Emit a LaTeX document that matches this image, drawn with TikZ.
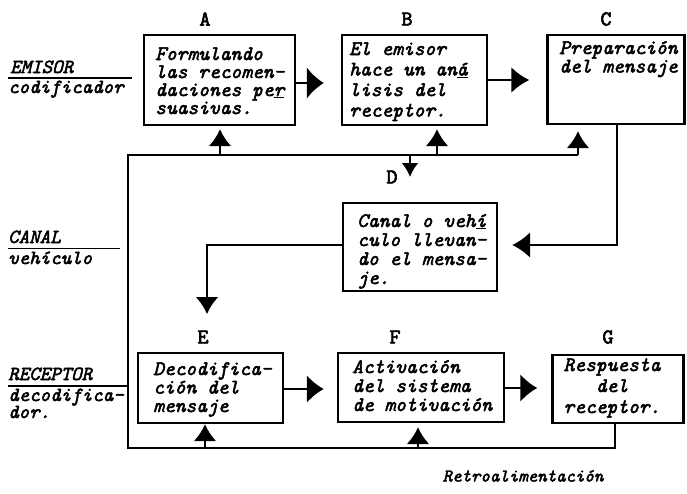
\documentclass[tikz,border=0pt]{standalone}
\usepackage{fontspec}
\newfontfamily\twfont{lmmono10-italic.otf}[FakeBold=2.5]
\newfontfamily\twupfont{lmmono10-regular.otf}[FakeBold=3]
\usetikzlibrary{arrows.meta}
\newcommand\boxtext[3]{\parbox[t]{#1}{\lineskiplimit=-50pt\relax #2#3}}
\tikzset{
  box/.style={draw, line width=2.4pt, inner sep=0pt},
  txt/.style={inner sep=0pt, font=\twfont\fontsize{20.5}{#1}\selectfont},
  side/.style={inner sep=0pt, anchor=base west, font=\twfont\fontsize{20}{20}\selectfont},
  letter/.style={inner sep=0pt, font=\twupfont\fontsize{21}{20}\selectfont},
  wire/.style={line width=2.4pt},
  conn/.style={line width=2.4pt, -{Latex[length=17pt,width=23pt]}},
  uline/.style={line width=1.8pt},
}
\begin{document}
\begin{tikzpicture}[x=1pt, y=-1pt]
\useasboundingbox (0,0) rectangle (687,493);

% boxes
\node[box, minimum width=151pt, minimum height=90pt] (A) at (219.5,80) {};
\node[box, minimum width=145pt, minimum height=90pt] (B) at (414.5,80) {};
\node[box, minimum width=137pt, minimum height=89pt] (C) at (616,79.5) {};
\node[box, minimum width=154pt, minimum height=88pt] (K) at (420,247) {};
\node[box, minimum width=145pt, minimum height=70pt] (E) at (210.5,388) {};
\node[box, minimum width=166pt, minimum height=69pt] (F) at (421,387.5) {};
\node[box, minimum width=131pt, minimum height=68pt] (G) at (618,389) {};

% box texts
\node[txt=18, anchor=base west] (At) at (155,60) {\boxtext{140pt}{\raggedright}{Formulando\\las recomen-\\daciones pe\underline{r}\\suasivas.}};
\node[txt=20.5, anchor=base west] (Bt) at (349,55) {\boxtext{140pt}{\raggedright}{El emisor\\hace un an\underline{á}\\lisis del\\receptor.}};
\node[txt=18.5, anchor=base west] (Ct) at (559,54) {\boxtext{140pt}{\raggedright}{Preparación\\del mensaje}};
\node[txt=19, anchor=base west] (Kt) at (357,227) {\boxtext{150pt}{\raggedright}{Canal o veh\underline{í}\\culo llevan-\\do el mensa-\\je.}};
\node[txt=18.5, anchor=base west] (Et) at (153,375) {\boxtext{140pt}{\raggedright}{Decodifica-\\ción del\\mensaje}};
\node[txt=19, anchor=base west] (Ft) at (352,373) {\boxtext{160pt}{\raggedright}{Activación\\del sistema\\de motivación}};
\node[txt=21, anchor=base] (Gt) at (612,371) {\boxtext{130pt}{\centering}{Respuesta\\del\\receptor.}};

% letters
\node[letter] (LA) at (205,19) {A};
\node[letter] (LB) at (407,19) {B};
\node[letter] (LC) at (606,19) {C};
\node[letter] (LD) at (392,177) {D};
\node[letter] (LE) at (203,337) {E};
\node[letter] (LF) at (395,337) {F};
\node[letter] (LG) at (608,337) {G};

% side labels
\node[side] (emi) at (10,73) {EMISOR};
\node[side] (cod) at (8,93) {codificador};
\draw[uline] (8,78) -- (132,78);
\node[side] (can) at (8,243) {CANAL};
\node[side] (veh) at (8,264) {vehículo};
\draw[uline] (8,248.5) -- (120,248.5);
\node[side] (rec) at (8,380) {RECEPTOR};
\node[side] (dec) at (8,401) {decodifica-};
\node[side] (dor) at (8,418) {dor.};
\draw[uline] (8,386) -- (128,386);
\node[inner sep=0pt, font=\twfont\fontsize{18}{20}\selectfont] (retro) at (523,476) {Retroalimentación};

% coordinates of the feedback loop
\coordinate (tl) at (128,155);
\coordinate (tr) at (578,155);
\coordinate (bl) at (128,448);
\coordinate (br) at (615,448);
\coordinate (fa) at (220,155);
\coordinate (fb) at (437,155);
\coordinate (fd) at (410,155);
\coordinate (dend) at (410,177);
\coordinate (fe) at (205,448);
\coordinate (ff) at (418,448);
\coordinate (eend) at (207,314);
\coordinate (cdown) at (617,123);

% main flow
\draw[conn, -{Latex[length=17pt,width=32pt]}, shorten >=17pt] (A.east |- 0,83) -- (B.west |- 0,83);
\draw[conn, -{Latex[length=18pt,width=26pt]}, shorten >=17pt] (B.east |- 0,80) -- (C.west |- 0,80);
\draw[conn, -{Latex[length=18pt,width=26pt]}, shorten >=14pt] (cdown) |- (K.east |- 0,245);
\draw[conn] (K.west |- 0,245) -| (eend);
\draw[conn, -{Latex[length=17pt,width=28pt]}, shorten >=13pt] (E.east |- 0,389) -- (F.west |- 0,389);
\draw[conn, -{Latex[length=17pt,width=28pt]}, shorten >=14pt] (F.east |- 0,388) -- (G.west |- 0,388);

% feedback
\draw[wire] (G.south -| br) -- (br) -- (bl) -- (tl) -- (tr);
\draw[conn, shorten >=6pt] (tr) -- (tr |- C.south);
\draw[conn, shorten >=3pt] (fa) -- (fa |- A.south);
\draw[conn, shorten >=3pt] (fb) -- (fb |- B.south);
\draw[conn, -{Latex[length=14pt,width=17pt]}] (fd) -- (dend);
\draw[conn] (fe) -- (fe |- E.south);
\draw[conn, shorten >=4pt] (ff) -- (ff |- F.south);
\end{tikzpicture}
\end{document}
